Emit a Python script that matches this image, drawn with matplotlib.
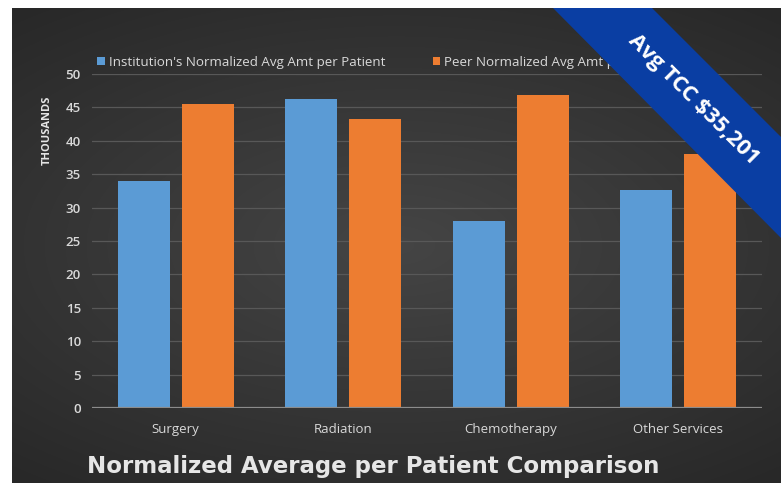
import numpy as np
import matplotlib
matplotlib.use("Agg")
import matplotlib.pyplot as plt
from matplotlib.patches import Polygon

categories = ["Surgery", "Radiation", "Chemotherapy", "Other Services"]
institution = [34.0, 46.2, 28.0, 32.7]
peer = [45.5, 43.2, 46.9, 38.0]
yticks = [0, 5, 10, 15, 20, 25, 30, 35, 40, 45, 50]
series_names = ["Institution's Normalized Avg Amt per Patient", "Peer Normalized Avg Amt per Patient"]
title = "Normalized Average per Patient Comparison"
banner = "Avg TCC $35,201"

W, H = 784, 483
fig = plt.figure(figsize=(W / 100, H / 100), dpi=100)
fig.patch.set_facecolor("white")

def px(x0, y0, x1, y1):
    return [x0 / W, 1 - y1 / H, (x1 - x0) / W, (y1 - y0) / H]

# dark background panel with soft gradient
bg = fig.add_axes(px(12, 8, 781, 483))
bg.set_axis_off()
yy, xx = np.mgrid[-1:1:200j, -1:1:300j]
r = np.sqrt((xx * 0.9) ** 2 + (yy * 1.1) ** 2)
g = np.clip(0.27 - 0.08 * r, 0.16, 0.3)
img = np.dstack([g, g, g])
bg.imshow(img, aspect="auto", extent=[0, 1, 0, 1], interpolation="bilinear")
bg.set_xlim(0, 1)
bg.set_ylim(0, 1)

ax = fig.add_axes(px(92, 74, 762, 408))
ax.set_facecolor("none")
x = np.arange(len(categories))
bw = 0.31
gap = 0.07
ax.bar(x - (bw + gap) / 2, institution, bw, color="#5b9bd5", zorder=3, label=series_names[0])
ax.bar(x + (bw + gap) / 2, peer, bw, color="#ed7d31", zorder=3, label=series_names[1])
ax.set_xlim(-0.5, len(categories) - 0.5)
ax.set_ylim(0, 50)
ax.set_yticks(yticks)
ax.set_yticklabels([str(v) for v in yticks], color="#d9d9d9", fontsize=9.5,
                   family=["Open Sans", "DejaVu Sans"], fontweight="semibold")
ax.set_xticks(x)
ax.set_xticklabels(categories, color="#d9d9d9", fontsize=9.5,
                   family=["Open Sans", "DejaVu Sans"])
ax.tick_params(length=0, pad=8)
ax.tick_params(axis="x", pad=11)
for s in ax.spines.values():
    s.set_visible(False)
ax.grid(axis="y", color="#585858", lw=0.9, zorder=0)
ax.axhline(0, color="#8c8c8c", lw=1.6, zorder=4)
ax.set_ylabel("THOUSANDS", color="#e6e6e6", fontsize=8, fontweight="bold",
              family=["Open Sans", "DejaVu Sans"])
ax.yaxis.set_label_coords(-0.059, 0.83)

leg = ax.legend(loc="lower left", bbox_to_anchor=(0.0, 1.0), ncol=2, frameon=False,
                handlelength=0.55, handleheight=0.55, handletextpad=0.3,
                columnspacing=3.6, borderaxespad=0.2, borderpad=0.2,
                prop={"family": ["Open Sans", "DejaVu Sans"], "size": 9.6})
for t in leg.get_texts():
    t.set_color("#d9d9d9")

fig.text(87 / W, 1 - 466 / H, title, color="#e6e6e6", fontsize=16.5, fontweight="bold",
         family=["DejaVu Sans"], va="center", ha="left")

# diagonal banner in top-right corner
tr = fig.transFigure
def fp(xp, yp):
    return (xp / W, 1 - yp / H)
poly = Polygon([fp(553, 8), fp(652, 8), fp(781, 137), fp(781, 238)], closed=True,
               transform=tr, facecolor="#0a3ea3", edgecolor="none", zorder=20)
fig.add_artist(poly)
fig.text(693 / W, 1 - 100 / H, banner, transform=tr, rotation=-45, color="white",
         fontsize=16, fontweight="bold", family=["Open Sans", "DejaVu Sans"],
         ha="center", va="center", rotation_mode="anchor", zorder=21)

fig.savefig("out.png", dpi=100, facecolor="white")
